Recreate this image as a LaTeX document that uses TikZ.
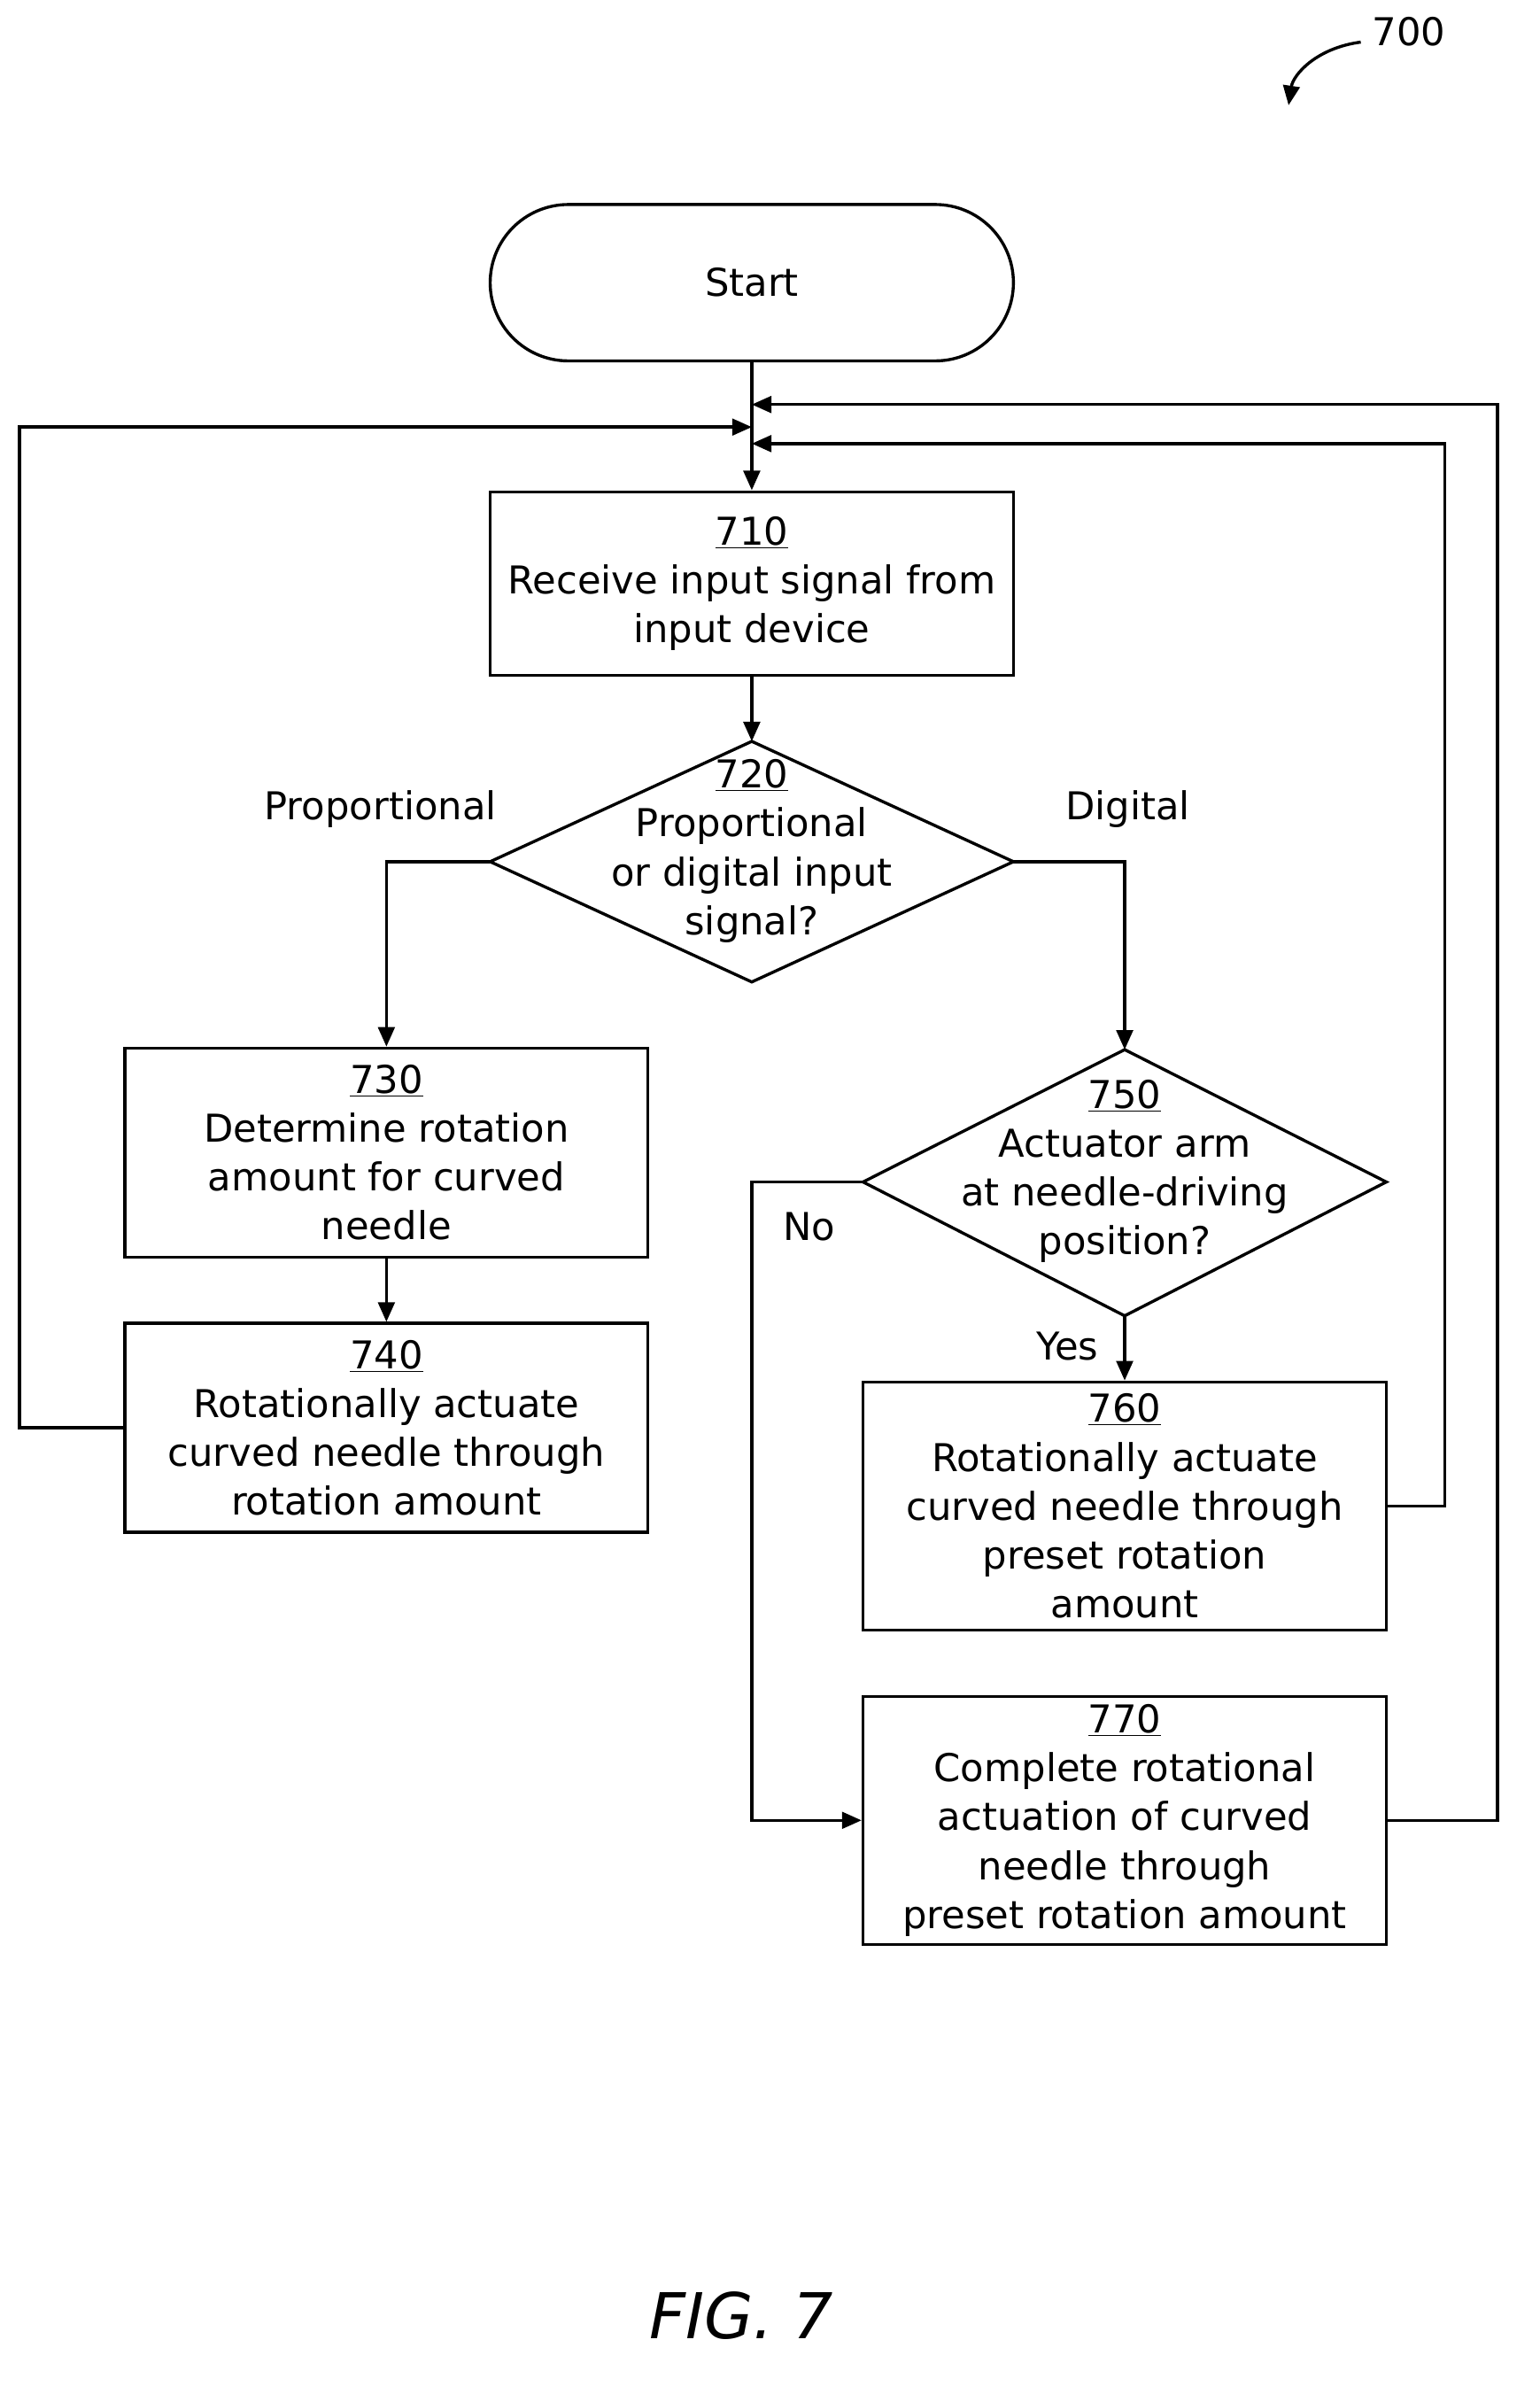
\documentclass[tikz,border=0pt]{standalone}
\usepackage{fontspec}
\setmainfont{DejaVu Sans}
\usetikzlibrary{shapes.geometric,arrows.meta}
\begin{document}
\begin{tikzpicture}[x=1pt,y=-1pt,
  every node/.style={font=\fontsize{25.5}{32.5}\selectfont},
  box/.style={draw,line width=2pt,minimum width=348pt,align=center,inner sep=0pt},
  ar/.style={line width=2pt,-{Triangle[length=13pt,width=11pt]}}]
\useasboundingbox (0,0) rectangle (1024,1592);
\node[draw,line width=2pt,rounded corners=52pt,minimum width=348pt,minimum height=104pt] (s) at (500,188) {Start};
\node[box,minimum height=122pt] (a) at (500,388) {\underline{710}\\Receive input signal from\\input device};
\draw[line width=2pt] (326,573) -- (500,493) -- (674,573) -- (500,653) -- cycle;
\node[align=center] (d1t) at (500,566) {\underline{720}\\Proportional\\or digital input\\signal?};
\draw[line width=2pt] (574,786) -- (748,698) -- (922,786) -- (748,875) -- cycle;
\node[align=center] (d2t) at (748,779) {\underline{750}\\Actuator arm\\at needle-driving\\position?};
\coordinate (d1l) at (326,573); \coordinate (d1r) at (674,573); \coordinate (d1b) at (500,493);
\coordinate (d2t0) at (748,698); \coordinate (d2l) at (574,786); \coordinate (d2b) at (748,875);
\node[box,minimum height=139pt] (b730) at (257,766.5) {\underline{730}\\Determine rotation\\amount for curved\\needle};
\node[box,minimum height=139pt] (b740) at (257,949.5) {\underline{740}\\Rotationally actuate\\curved needle through\\rotation amount};
\node[box,minimum height=165pt] (b760) at (748,1001.5) {\underline{760}\\Rotationally actuate\\curved needle through\\preset rotation\\amount};
\node[box,minimum height=165pt] (b770) at (748,1210.5) {\underline{770}\\Complete rotational\\actuation of curved\\needle through\\preset rotation amount};
\node (lp) at (253,538) {Proportional};
\node (ld) at (750,538) {Digital};
\node (ln) at (538,816) {No};
\node (ly) at (710,895) {Yes};
\node[font=\fontsize{42}{42}\selectfont\itshape] (fig) at (493,1540) {FIG. 7};
\node[font=\fontsize{25.5}{25.5}\selectfont] (n700) at (937,21) {700};
\coordinate (j1) at (500,269); \coordinate (j2) at (500,284); \coordinate (j3) at (500,295);
\draw[ar] (s.south) -- (a.north);
\draw[ar] (a.south) -- (d1b);
\draw[ar] (d1l) -| (b730.north);
\draw[ar] (d1r) -| (d2t0);
\draw[ar] (b730.south) -- (b740.north);
\draw[ar] (d2b) -- (b760.north);
\draw[ar] (d2l) -- (500,786) |- (b770.west);
\draw[ar] (b740.west) -- (13,949.5) |- (j2);
\draw[ar] (b760.east) -- (961,1001.5) |- (j3);
\draw[ar] (b770.east) -- (996,1210.5) |- (j1);
\coordinate (c1) at (905,28); \coordinate (c2) at (857,70);
\draw[ar] (c1) .. controls (875,32) and (860,50) .. (c2);
\end{tikzpicture}
\end{document}
